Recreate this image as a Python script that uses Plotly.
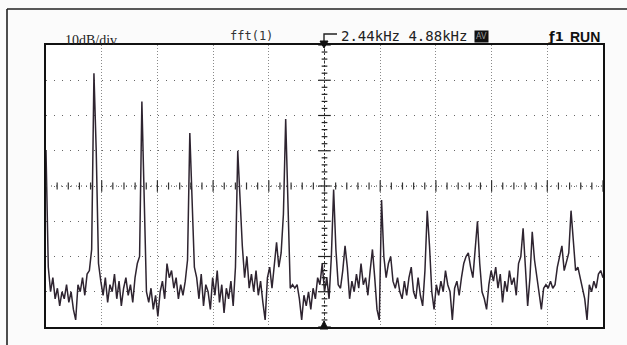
import plotly.graph_objects as go

# ---- data ----
span_khz = 4.88
center_khz = 2.44
step_khz = 0.02
level_db = [
    -30, -63, -70, -66, -72, -69, -74, -70, -72, -68,
    -73, -70, -75, -78, -68, -70, -66, -71, -65, -64,
    -58, -8, -30, -62, -67, -71, -66, -73, -68, -70,
    -65, -72, -67, -74, -69, -66, -71, -68, -73, -66,
    -62, -60, -16, -40, -70, -73, -69, -75, -71, -77,
    -70, -67, -72, -62, -66, -64, -69, -66, -72, -68,
    -71, -67, -61, -25, -45, -63, -66, -72, -65, -74,
    -68, -70, -75, -66, -71, -64, -73, -68, -76, -69,
    -72, -67, -74, -63, -30, -45, -57, -66, -60, -69,
    -65, -70, -64, -71, -67, -73, -78, -66, -63, -69,
    -62, -56, -63, -59, -48, -21, -45, -69, -68, -69,
    -68, -72, -78, -71, -74, -70, -75, -69, -72, -66,
    -68, -62, -70, -66, -72, -60, -41, -58, -68, -69,
    -64, -57, -63, -72, -67, -70, -65, -69, -62, -68,
    -66, -71, -64, -58, -66, -75, -78, -44, -60, -66,
    -62, -60, -67, -69, -66, -70, -72, -67, -71, -66,
    -63, -70, -72, -66, -71, -74, -64, -47, -57, -70,
    -75, -68, -71, -67, -70, -64, -68, -70, -78, -69,
    -67, -71, -66, -62, -60, -59, -63, -66, -58, -50,
    -62, -70, -72, -75, -68, -64, -67, -63, -69, -65,
    -73, -67, -70, -64, -68, -66, -71, -62, -60, -52,
    -63, -74, -66, -53, -61, -66, -70, -75, -69, -68,
    -69, -67, -69, -68, -63, -60, -57, -64, -61, -59,
    -47, -56, -64, -63, -66, -69, -72, -78, -68, -70,
    -67, -69, -65, -64, -66,
]
freq_khz = [round(i * step_khz, 2) for i in range(len(level_db))]

label_scale = "10dB/div"
label_src = "fft(1)"
label_center = "2.44kHz 4.88kHz"
label_box = "AV"
label_trig = "ƒ1"
label_run = "RUN"

W, H = 627, 345
L, R, T, B = 46, 603, 45, 327

def px(x):
    return (x - L) / (R - L)

def py(y):
    return (B - y) / (B - T)

fig = go.Figure()
fig.add_trace(go.Scatter(
    x=freq_khz, y=level_db, mode="lines",
    line=dict(color="#2e2430", width=1.5),
    hoverinfo="skip", showlegend=False,
))

shapes = []
xdiv = span_khz / 10
ydiv = 10
# center crosshair
shapes.append(dict(type="line", xref="x", yref="y", x0=center_khz, x1=center_khz,
                   y0=-80, y1=0, line=dict(color="#333", width=1, dash="2px,2px")))
shapes.append(dict(type="line", xref="x", yref="y", x0=0, x1=span_khz,
                   y0=-40, y1=-40, line=dict(color="#444", width=1, dash="1px,4px")))
for k in range(41):
    yy = -80 + k * ydiv / 5
    major = (k % 5 == 0)
    hw = 0.055 if major else 0.025
    shapes.append(dict(type="line", xref="x", yref="y", x0=center_khz - hw, x1=center_khz + hw,
                       y0=yy, y1=yy, line=dict(color="#222", width=1.2)))
for k in range(51):
    xx = k * xdiv / 5
    hh = 1.0 if k % 5 else 1.6
    shapes.append(dict(type="line", xref="x", yref="y", x0=xx, x1=xx,
                       y0=-40 - hh, y1=-40 + hh, line=dict(color="#333", width=1.2)))
# outer frame of screen
shapes.append(dict(type="line", xref="paper", yref="paper", x0=px(7), x1=px(7),
                   y0=py(9), y1=py(350), line=dict(color="#222", width=1.6)))
shapes.append(dict(type="line", xref="paper", yref="paper", x0=px(7), x1=px(640),
                   y0=py(9), y1=py(9), line=dict(color="#222", width=1.6)))
# marker bracket at top
shapes.append(dict(type="path", xref="paper", yref="paper",
                   path=f"M {px(324)} {py(46)} L {px(324)} {py(34)} L {px(337)} {py(34)}",
                   line=dict(color="#222", width=1.4)))
shapes.append(dict(type="path", xref="paper", yref="paper",
                   path=f"M {px(320)} {py(41)} L {px(328)} {py(41)} L {px(324)} {py(48)} Z",
                   fillcolor="#111", line=dict(color="#111", width=1)))
shapes.append(dict(type="path", xref="paper", yref="paper",
                   path=f"M {px(320)} {py(329)} L {px(328)} {py(329)} L {px(324)} {py(321)} Z",
                   fillcolor="#111", line=dict(color="#111", width=1)))

ann = []
ann.append(dict(text=label_scale, x=px(63), y=py(40), xanchor="left", yanchor="middle",
                font=dict(family="Liberation Serif", size=14, color="#222")))
ann.append(dict(text=label_src, x=px(228), y=py(36), xanchor="left", yanchor="middle",
                font=dict(family="DejaVu Sans Mono", size=12, color="#333")))
ann.append(dict(text=label_center, x=px(339), y=py(36), xanchor="left", yanchor="middle",
                font=dict(family="DejaVu Sans Mono", size=14, color="#222")))
ann.append(dict(text=label_box, x=px(481), y=py(36), xanchor="center", yanchor="middle",
                bgcolor="#111", borderpad=1,
                font=dict(family="DejaVu Sans", size=8, color="#999")))
ann.append(dict(text="<b>" + label_trig + "</b>", x=px(566), y=py(37), xanchor="right", yanchor="middle",
                font=dict(family="DejaVu Sans", size=13, color="#111")))
ann.append(dict(text="<b>" + label_run + "</b>", x=px(602), y=py(37), xanchor="right", yanchor="middle",
                font=dict(family="Liberation Sans Narrow, Liberation Sans", size=14, color="#111")))
for a in ann:
    a.update(xref="paper", yref="paper", showarrow=False)

fig.update_layout(
    width=W, height=H,
    margin=dict(l=L, r=W - R, t=T, b=H - B, pad=0),
    paper_bgcolor="#fbfbfb", plot_bgcolor="#ffffff",
    shapes=shapes, annotations=ann,
    xaxis=dict(range=[0, span_khz], dtick=xdiv, tick0=0, showticklabels=False, ticks="",
               showgrid=True, gridcolor="#8a8a8a", gridwidth=1, griddash="1px,2px",
               zeroline=False, showline=True, mirror=True, linecolor="#111", linewidth=1.6,
               fixedrange=True),
    yaxis=dict(range=[-80, 0], dtick=ydiv, tick0=-80, showticklabels=False, ticks="",
               showgrid=True, gridcolor="#666", gridwidth=1, griddash="1px,7px",
               zeroline=False, showline=True, mirror=True, linecolor="#111", linewidth=1.6,
               fixedrange=True),
)

fig.write_html(
    "out.html",
    config={"displayModeBar": False},
    post_script="document.body.style.margin='0px';document.body.style.padding='0px';",
)
